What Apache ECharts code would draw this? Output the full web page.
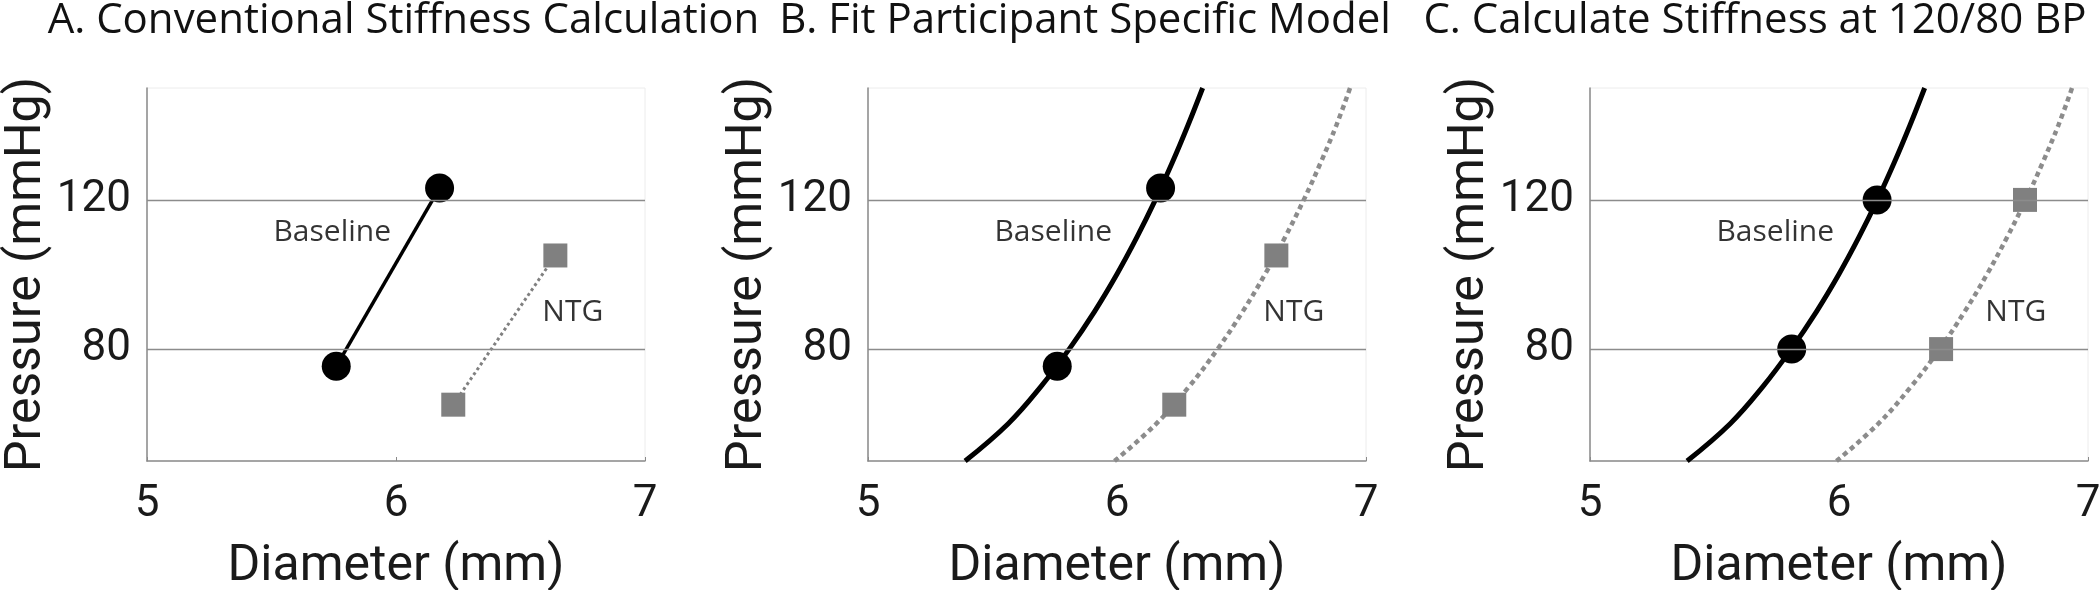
<!DOCTYPE html>
<html><head><meta charset="utf-8">
<script src="https://cdn.jsdelivr.net/npm/echarts@6/dist/echarts.min.js"></script>
<style>html,body{margin:0;padding:0;background:#fff}#c{width:2100px;height:590px}</style>
</head><body><div id="c"></div>
<script>
// ---------- data ----------
const xTicks = [5, 6, 7];
const yTicks = [80, 120];
const xRange = [5, 7];
const yRange = [50, 150];
const titles = ['A. Conventional Stiffness Calculation', 'B. Fit Participant Specific Model', 'C. Calculate Stiffness at 120/80 BP'];
const xName = 'Diameter (mm)';
const yName = 'Pressure (mmHg)';
// measured diameter/pressure points
const baselineMeasured = [[5.76, 75.4], [6.175, 123.2]];
const ntgMeasured = [[6.23, 65.1], [6.64, 105.1]];
// model evaluated at 120/80
const baselineAt12080 = [[5.81, 80], [6.153, 120]];
const ntgAt12080 = [[6.41, 80], [6.747, 120]];
// participant-specific model curves
const baselineModel = [[5.39, 50], [5.563, 60], [5.695, 70], [5.808, 80], [5.909, 90], [5.999, 100], [6.08, 110], [6.154, 120], [6.222, 130], [6.285, 140], [6.344, 150]];
const ntgModel = [[5.99, 50], [6.158, 60], [6.29, 70], [6.404, 80], [6.504, 90], [6.594, 100], [6.675, 110], [6.75, 120], [6.818, 130], [6.881, 140], [6.936, 150]];
const labelNames = ['Baseline', 'NTG'];
const labelPos = [[5.744, 111.3], [6.71, 89.8]];

// ---------- layout ----------
const gridLefts = [147, 868, 1590];
const titleCenters = [403.5, 1085, 1755];
const TXT = '#1a1a1a';
const AX = '#8a8a8a';
const GRAY = '#808080';

const grids = [], xAxes = [], yAxes = [], series = [], graphics = [];
for (let i = 0; i < 3; i++) {
  grids.push({left: gridLefts[i], top: 88, width: 498, height: 373, outerBoundsMode: 'none', containLabel: false,
    show: true, borderColor: '#ececec', borderWidth: 1, backgroundColor: 'transparent'});
  xAxes.push({
    gridIndex: i, type: 'value', min: xRange[0], max: xRange[1], interval: 1,
    name: xName, nameLocation: 'middle', nameGap: 81,
    nameTextStyle: {fontFamily: 'Roboto', fontSize: 50, color: TXT},
    axisLine: {show: true, lineStyle: {color: AX, width: 1.5}},
    axisTick: {show: true, inside: true, length: 4, lineStyle: {color: AX}},
    axisLabel: {fontFamily: 'Roboto', fontSize: 44, color: TXT, margin: 22,
      formatter: v => xTicks.includes(v) ? String(v) : ''},
    splitLine: {show: false}
  });
  yAxes.push({
    gridIndex: i, type: 'value', min: yRange[0], max: yRange[1], interval: 10,
    name: yName, nameLocation: 'middle', nameRotate: 90, nameGap: 92,
    nameTextStyle: {fontFamily: 'Roboto', fontSize: 50, color: TXT},
    axisLine: {show: true, lineStyle: {color: AX, width: 1.5}},
    axisTick: {show: false},
    axisLabel: {fontFamily: 'Roboto', fontSize: 44, color: TXT, margin: 16,
      formatter: v => yTicks.includes(v) ? String(v) : ''},
    splitLine: {show: false}
  });
  // horizontal reference lines at tick values
  series.push({
    type: 'line', xAxisIndex: i, yAxisIndex: i, data: [], z: 1, silent: true,
    markLine: {silent: true, symbol: 'none', label: {show: false}, animation: false,
      lineStyle: {color: '#8c8c8c', width: 1.3, type: 'solid'},
      data: yTicks.map(v => ({yAxis: v}))}
  });
  graphics.push({
    type: 'text', x: titleCenters[i], y: 0, z: 10,
    style: {text: titles[i], font: '42px "Open Sans"', fill: '#111', align: 'center', textAlign: 'center', verticalAlign: 'top', textVerticalAlign: 'top'}
  });
  // annotation labels
  series.push({
    type: 'scatter', xAxisIndex: i, yAxisIndex: i, symbolSize: 2, z: 5, silent: true,
    itemStyle: {color: 'rgba(0,0,0,0)'},
    label: {show: true, position: 'inside', formatter: p => p.name, fontFamily: 'Open Sans', fontSize: 30, color: '#000'},
    data: labelNames.map((n, k) => ({name: n, value: labelPos[k]}))
  });
}

// Panel A: measured points joined by straight segments
series.push({type: 'line', xAxisIndex: 0, yAxisIndex: 0, data: baselineMeasured, z: 3, silent: true,
  lineStyle: {color: '#000', width: 3.5}, symbol: 'circle', symbolSize: 29, itemStyle: {color: '#000', opacity: 1}});
series.push({type: 'line', xAxisIndex: 0, yAxisIndex: 0, data: ntgMeasured, z: 3, silent: true,
  lineStyle: {color: GRAY, width: 3, type: [3, 3]}, symbol: 'rect', symbolSize: 24, itemStyle: {color: GRAY, opacity: 1}});

// Panels B and C: model curves
for (const i of [1, 2]) {
  series.push({type: 'line', xAxisIndex: i, yAxisIndex: i, data: baselineModel, z: 3, silent: true, smooth: 0.4,
    showSymbol: false, lineStyle: {color: '#000', width: 5}});
  series.push({type: 'line', xAxisIndex: i, yAxisIndex: i, data: ntgModel, z: 3, silent: true, smooth: 0.4,
    showSymbol: false, lineStyle: {color: '#8c8c8c', width: 4.5, type: [5, 4]}});
}
const pointSets = [[baselineMeasured, ntgMeasured], [baselineAt12080, ntgAt12080]];
[1, 2].forEach((i, k) => {
  series.push({type: 'scatter', xAxisIndex: i, yAxisIndex: i, data: pointSets[k][0], z: 4, silent: true,
    symbol: 'circle', symbolSize: 29, itemStyle: {color: '#000', opacity: 1}});
  series.push({type: 'scatter', xAxisIndex: i, yAxisIndex: i, data: pointSets[k][1], z: 4, silent: true,
    symbol: 'rect', symbolSize: 24, itemStyle: {color: GRAY, opacity: 1}});
});

const chart = echarts.init(document.getElementById('c'), null, {renderer: 'canvas'});
chart.setOption({
  animation: false,
  backgroundColor: '#fff',
  grid: grids, xAxis: xAxes, yAxis: yAxes, series: series, graphic: graphics
});
</script></body></html>
